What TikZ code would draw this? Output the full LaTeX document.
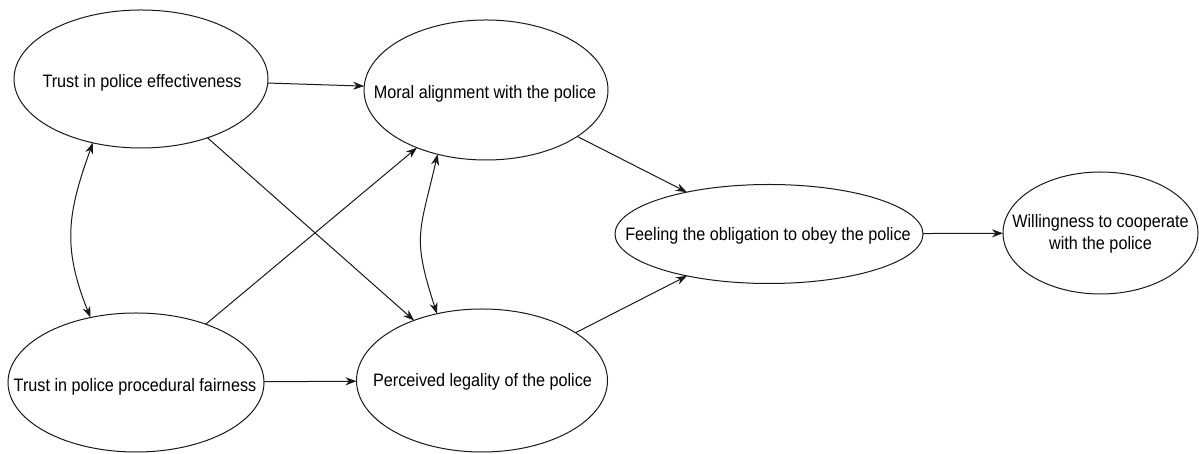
\documentclass[tikz,border=0pt]{standalone}
\usepackage{fontspec}
\setmainfont{Liberation Sans}[FakeStretch=0.9]
\usetikzlibrary{arrows.meta,shapes.geometric}
\begin{document}
\begin{tikzpicture}[x=1pt,y=1pt,
  ell/.style={draw=black!90, line width=1pt, ellipse, inner sep=0pt, outer sep=0pt},
  lbl/.style={font=\fontsize{18}{22}\selectfont, inner sep=0pt, anchor=base, text=black},
  arr/.style={draw=black!90, line width=1pt, -{Stealth[length=11pt,width=8pt,inset=3.5pt]}},
  darr/.style={draw=black!90, line width=1pt, {Stealth[length=11pt,width=8pt,inset=3.5pt]}-{Stealth[length=11pt,width=8pt,inset=3.5pt]}}]
\useasboundingbox[fill=white] (0,0) rectangle (1199,454);
% ellipses
\node[ell, minimum width=254pt, minimum height=138pt] (eff)  at (141,375) {};
\node[ell, minimum width=244pt, minimum height=140pt] (mor)  at (486,364) {};
\node[ell, minimum width=256pt, minimum height=139pt] (pro)  at (136,71.5) {};
\node[ell, minimum width=251pt, minimum height=143pt] (leg)  at (482,73.5) {};
\node[ell, minimum width=308pt, minimum height=99pt]  (feel) at (769,220) {};
\node[ell, minimum width=195pt, minimum height=122pt] (will) at (1100.5,221) {};
% labels
\node[lbl] (efft)  at (142,366) {Trust in police effectiveness};
\node[lbl] (mort)  at (485,355) {Moral alignment with the police};
\node[lbl] (prot)  at (135,62) {Trust in police procedural fairness};
\node[lbl] (legt)  at (482.5,67) {Perceived legality of the police};
\node[lbl] (feelt) at (768,213) {Feeling the obligation to obey the police};
\node[lbl, anchor=center, align=center] (willt) at (1100.5,220) {Willingness to cooperate\\with the police};
% connectors
\draw[arr] (eff) -- (mor);
\draw[arr] (eff) -- (leg);
\draw[arr] (pro) -- (mor);
\draw[arr] (pro) -- (leg);
\draw[arr] (mor) -- (feel);
\draw[arr] (leg) -- (feel);
\draw[arr] (feel) -- (will);
\draw[darr] (eff.233) to[out=250,in=112,looseness=1.1] (pro.125);
\draw[darr] (mor.233) to[out=257,in=108,looseness=1.3] (leg.124);
\end{tikzpicture}
\end{document}
